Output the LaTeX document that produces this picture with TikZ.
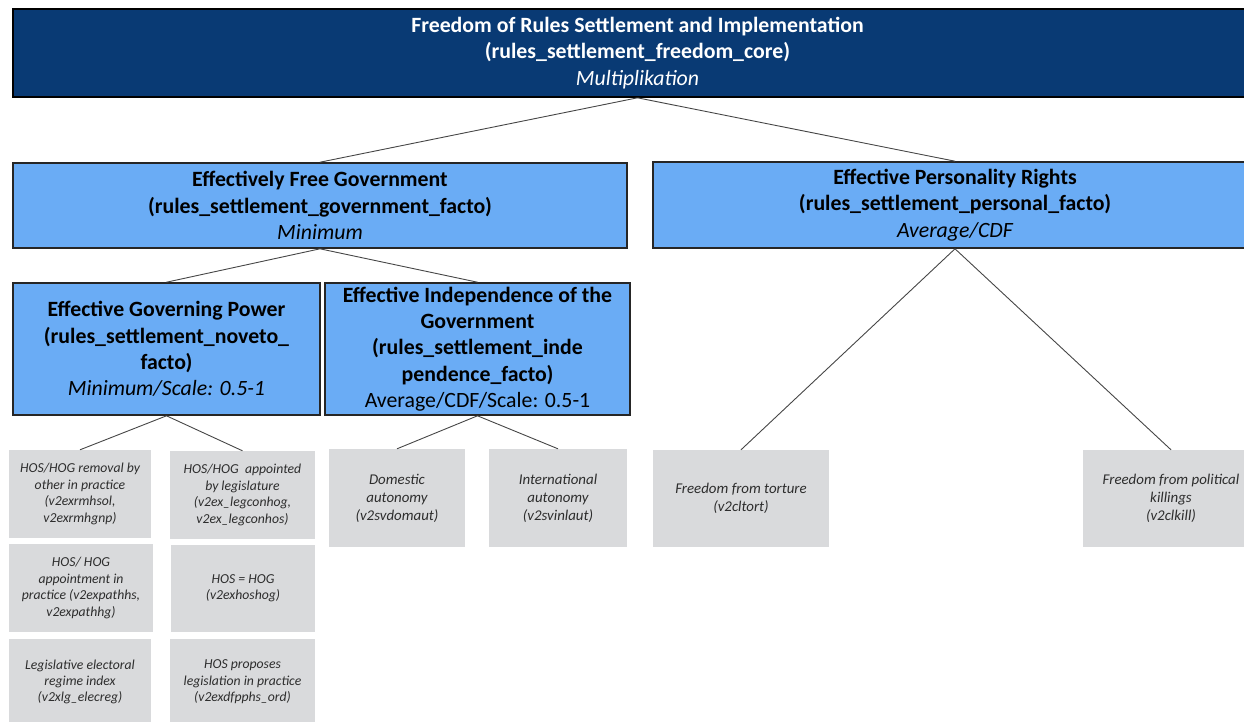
\documentclass[tikz,border=0pt]{standalone}
\usepackage{fontspec}
\setmainfont{Carlito}
\definecolor{navy}{RGB}{9,58,116}
\definecolor{skyblue}{RGB}{106,172,245}
\definecolor{leafgray}{RGB}{217,218,220}
\definecolor{leaftext}{RGB}{45,45,45}
\definecolor{linkgray}{RGB}{70,70,70}
\newcommand\headsize{\fontsize{21.8}{26.4}\selectfont}
\newcommand\leafsize{\fontsize{13.7}{16.4}\selectfont}
\newcommand\wideleafsize{\fontsize{14.9}{18}\selectfont}
% a tall invisible strut on the first line lowers the text block slightly
\newcommand\topstrut[1]{\rule{0pt}{#1}}
\tikzset{
  corebox/.style={draw=black, line width=1.6pt, fill=navy, text=white,
    inner sep=0pt, align=center, font=\headsize\bfseries,
    execute at begin node={\topstrut{21.5pt}}},
  dimbox/.style={corebox, draw=black!85, fill=skyblue, text=black},
  leafbox/.style={fill=leafgray, text=leaftext, inner sep=0pt, align=center,
    font=\leafsize\itshape, execute at begin node={\topstrut{15.5pt}}},
  wideleaf/.style={leafbox, font=\wideleafsize\itshape,
    execute at begin node={\topstrut{15.5pt}}},
  link/.style={draw=linkgray, line width=0.9pt},
}
\begin{document}
\begin{tikzpicture}[x=1pt,y=-1pt]
\useasboundingbox (0,0) rectangle (1244,721);

% aggregate index
\node[corebox, minimum width=1249pt, minimum height=88pt] (core) at (637.5,53)
  {Freedom of Rules Settlement and Implementation\\(rules\_settlement\_freedom\_core)\\\mdseries\itshape Multiplikation};

% first-level dimensions
\node[dimbox, minimum width=614pt, minimum height=85pt] (gov) at (320,205.5)
  {Effectively Free Government\\(rules\_settlement\_government\_facto)\\\mdseries\itshape Minimum};
\node[dimbox, minimum width=604pt, minimum height=86pt] (pers) at (955,205)
  {Effective Personality Rights\\(rules\_settlement\_personal\_facto)\\\mdseries\itshape Average/CDF};

% second-level dimensions
\node[dimbox, minimum width=307pt, minimum height=132pt] (power) at (166.5,349)
  {Effective Governing Power\\(rules\_settlement\_noveto\_\\facto)\\\mdseries\itshape Minimum/Scale: 0.5-1};
\node[dimbox, minimum width=305pt, minimum height=132pt] (indep) at (477.5,349)
  {Effective Independence of the\\Government\\(rules\_settlement\_inde\\pendence\_facto)\\\mdseries Average/CDF/Scale: 0.5-1};

% indicators of governing power
\node[leafbox, minimum width=142pt, minimum height=88pt] (rmv) at (80,494)
  {HOS/HOG removal by\\other in practice\\(v2exrmhsol,\\v2exrmhgnp)};
\node[leafbox, minimum width=145pt, minimum height=88pt] (apl) at (242.5,495)
  {HOS/HOG\ \ appointed\\by legislature\\(v2ex\_legconhog,\\v2ex\_legconhos)};
\node[leafbox, minimum width=144pt, minimum height=88pt] (app) at (81,588)
  {HOS/ HOG\\appointment in\\practice (v2expathhs,\\v2expathhg)};
\node[leafbox, minimum width=144pt, minimum height=87pt] (hoshog) at (243,588.5)
  {HOS = HOG\\(v2exhoshog)};
\node[leafbox, minimum width=142pt, minimum height=86pt] (elec) at (80,682)
  {Legislative electoral\\regime index\\(v2xlg\_elecreg)};
\node[leafbox, minimum width=145pt, minimum height=86pt] (prop) at (242.5,682)
  {HOS proposes\\legislation in practice\\(v2exdfpphs\_ord)};

% indicators of independence
\node[wideleaf, minimum width=136pt, minimum height=98pt] (dom) at (397,498)
  {Domestic\\autonomy\\(v2svdomaut)};
\node[wideleaf, minimum width=138pt, minimum height=98pt] (intl) at (558,498)
  {International\\autonomy\\(v2svinlaut)};

% indicators of personality rights
\node[wideleaf, minimum width=176pt, minimum height=97pt] (tort) at (741,498.5)
  {Freedom from torture\\(v2cltort)};
\node[wideleaf, minimum width=176pt, minimum height=97pt] (kill) at (1171,498.5)
  {Freedom from political\\killings\\(v2clkill)};

% tree connectors
\draw[link] (core.south) -- (gov.north);
\draw[link] (core.south) -- (pers.north);
\draw[link] (gov.south) -- (power.north);
\draw[link] (gov.south) -- (indep.north);
\draw[link] (power.south) -- (rmv.north);
\draw[link] (power.south) -- (apl.north);
\draw[link] (indep.south) -- (dom.north);
\draw[link] (indep.south) -- (intl.north);
\draw[link] (pers.south) -- (tort.north);
\draw[link] (pers.south) -- (kill.north);
\end{tikzpicture}
\end{document}
